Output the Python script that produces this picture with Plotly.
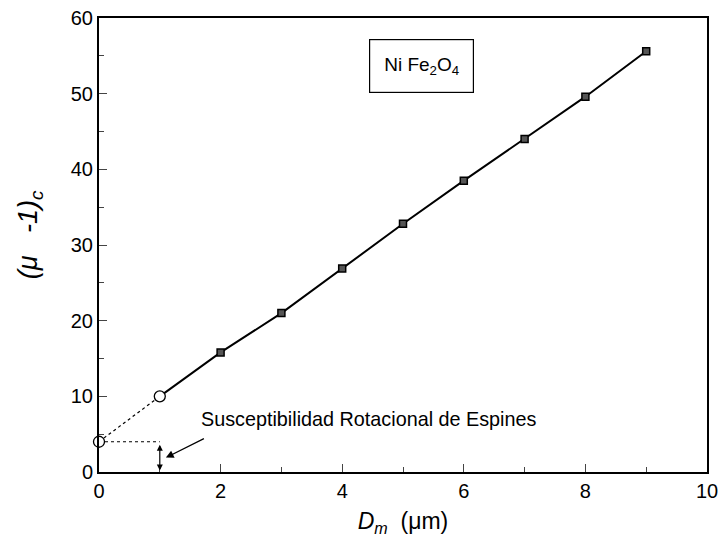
import plotly.graph_objects as go

# Data
dm_measured = [2, 3, 4, 5, 6, 7, 8, 9]
mu_measured = [15.8, 21.0, 26.9, 32.8, 38.5, 44.0, 49.6, 55.6]
dm_extrap = [0, 1]
mu_extrap = [4.0, 10.0]
x_ticks = [0, 2, 4, 6, 8, 10]
y_ticks = [0, 10, 20, 30, 40, 50, 60]
spin_value = 4.0
label_text = "Susceptibilidad Rotacional de Espines"

FONT = "Liberation Sans, Arial, sans-serif"

fig = go.Figure()

# dotted extrapolation line
fig.add_trace(go.Scatter(x=dm_extrap, y=mu_extrap, mode="lines",
                         line=dict(color="black", width=1.2, dash="dot"),
                         showlegend=False, hoverinfo="skip"))
# horizontal dotted line at spin value
fig.add_trace(go.Scatter(x=[dm_extrap[0], dm_extrap[1]], y=[spin_value, spin_value], mode="lines",
                         line=dict(color="black", width=1.2, dash="dot"),
                         showlegend=False, hoverinfo="skip"))
# solid line from x=1 through measured points
fig.add_trace(go.Scatter(x=[dm_extrap[1]] + dm_measured, y=[mu_extrap[1]] + mu_measured,
                         mode="lines", line=dict(color="black", width=2),
                         showlegend=False, hoverinfo="skip"))
# square markers
fig.add_trace(go.Scatter(x=dm_measured, y=mu_measured, mode="markers",
                         marker=dict(symbol="square", size=7, color="#555555",
                                     line=dict(color="black", width=1.5)),
                         showlegend=False))
# open circles
fig.add_trace(go.Scatter(x=dm_extrap, y=mu_extrap, mode="markers",
                         marker=dict(symbol="circle", size=11, color="white",
                                     line=dict(color="black", width=1.3)),
                         showlegend=False, cliponaxis=False))

fig.update_layout(
    width=718, height=550,
    margin=dict(l=99, r=11, t=18, b=78),
    paper_bgcolor="white", plot_bgcolor="white",
    font=dict(family=FONT, size=20, color="black"),
    xaxis=dict(range=[0, 10], tickvals=x_ticks, ticks="inside", ticklen=8, tickwidth=1.3,
               showline=True, linecolor="black", linewidth=2, mirror=True,
               showgrid=False, zeroline=False, automargin=False, ticklabeloverflow="allow",
               minor=dict(dtick=1, ticks="inside", ticklen=5, tickwidth=1.2),
               title=dict(text="<i>D<sub>m</sub></i>  (μm)", font=dict(size=23), standoff=12)),
    yaxis=dict(range=[0, 60], tickvals=y_ticks, ticks="inside", ticklen=8, tickwidth=1.3,
               showline=True, linecolor="black", linewidth=2, mirror=True,
               showgrid=False, zeroline=False, automargin=False, ticklabeloverflow="allow",
               minor=dict(dtick=5, ticks="inside", ticklen=5, tickwidth=1.2)),
)

# y-axis label placed as rotated annotation
fig.add_annotation(x=-0.113, y=0.522, xref="paper", yref="paper",
                   text="<i>(μ   -1)<sub>c</sub></i>", showarrow=False, textangle=-90,
                   font=dict(size=27), xanchor="center", yanchor="middle")

# material box
fig.add_annotation(x=0.53, y=0.894, xref="paper", yref="paper",
                   text="Ni Fe<sub>2</sub>O<sub>4</sub>", showarrow=False,
                   xanchor="center", yanchor="middle",
                   font=dict(size=19), bordercolor="black", borderwidth=1.2,
                   borderpad=14, bgcolor="white")

# label text
fig.add_annotation(x=1.64, y=7.0, xref="x", yref="y", text=label_text, showarrow=False,
                   xanchor="left", font=dict(size=19.8))
# pointer arrow
fig.add_annotation(x=1.1, y=1.9, xref="x", yref="y", ax=1.75, ay=4.5, axref="x", ayref="y",
                   text="", showarrow=True, arrowhead=2, arrowsize=1.2, arrowwidth=1.3,
                   arrowcolor="black")
# double-headed small arrow at x=1 from 0 to spin value
fig.add_annotation(x=dm_extrap[1], y=0.2, xref="x", yref="y", ax=dm_extrap[1], ay=spin_value - 0.2,
                   axref="x", ayref="y", text="", showarrow=True, arrowhead=2, startarrowhead=2,
                   arrowside="end+start", arrowsize=1, arrowwidth=1.2, arrowcolor="black")

fig.write_html("out.html")
